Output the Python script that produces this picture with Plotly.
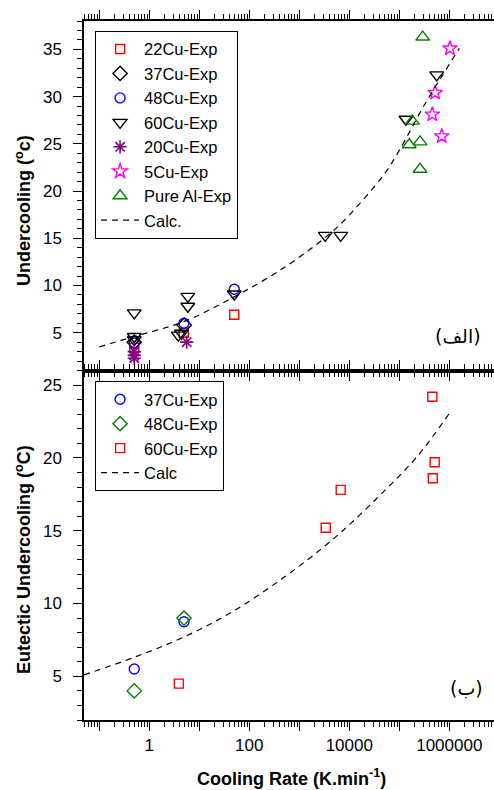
import plotly.graph_objects as go

# ---------------- data: top panel (primary undercooling) ----------------
cu22_x = [0.5, 4.9, 50]
cu22_y = [3.4, 5.0, 6.9]
cu37_x = [0.5, 5.0]
cu37_y = [4.0, 5.8]
cu48_x = [0.5, 4.94, 50]
cu48_y = [3.9, 6.0, 9.6]
cu60_x = [0.5, 0.5, 0.5, 3.8, 4.4, 5.9, 5.9, 50, 3300, 6730, 136000, 560000]
cu60_y = [7.1, 4.6, 4.25, 4.75, 4.95, 8.85, 7.8, 9.1, 15.3, 15.3, 27.6, 32.3]
cu20_x = [0.5, 0.5, 0.5, 5.6]
cu20_y = [3.0, 2.6, 2.3, 4.0]
cu5_x = [1030000, 520000, 457000, 705000]
cu5_y = [35.1, 30.4, 28.1, 25.8]
al_x = [294000, 182000, 158000, 260000, 260000]
al_y = [36.3, 27.4, 24.9, 25.2, 22.3]
calc_top_x = [0.1, 0.5, 5, 50, 500, 3162, 7943, 50119, 100000, 316228, 1585000]
calc_top_y = [3.5, 4.6, 6.2, 8.8, 11.9, 15.0, 16.9, 21.8, 24.3, 29.1, 35.1]

# ---------------- data: bottom panel (eutectic undercooling) ----------------
e37_x = [0.5, 4.94]
e37_y = [5.5, 8.75]
e48_x = [0.5, 4.94]
e48_y = [4.0, 9.0]
e60_x = [3.9, 3370, 6730, 457000, 510000, 467000]
e60_y = [4.5, 15.2, 17.8, 24.2, 19.7, 18.6]
calc_bot_x = [0.0494, 0.494, 4.94, 49.4, 494, 3119, 10700, 49000, 229000, 1070000]
calc_bot_y = [5.1, 6.3, 7.7, 9.5, 11.8, 13.9, 15.5, 17.7, 20.1, 23.2]

# ---------------- tick labels ----------------
x_major_vals = [0.1, 1, 10, 100, 1000, 10000, 100000, 1000000]
x_major_text = ["", "1", "", "100", "", "10000", "", "1000000"]
x_minor_vals = [m * 10 ** e for e in range(-2, 7) for m in range(2, 10)]

FONT = "Liberation Sans, Arial, sans-serif"
BLACK = "#000000"

fig = go.Figure()


def sc(x, y, name, symbol, color, size, xa, ya, legend, lw=1.4):
    fig.add_trace(go.Scatter(
        x=x, y=y, mode="markers", name=name, xaxis=xa, yaxis=ya, legend=legend,
        marker=dict(symbol=symbol, size=size, color=color,
                    line=dict(color=color, width=lw)),
    ))


# top panel traces (x2 / y2)
sc(cu22_x, cu22_y, "22Cu-Exp", "square-open", "#ff0000", 9, "x2", "y2", "legend")
sc(cu37_x, cu37_y, "37Cu-Exp", "diamond-open", BLACK, 11, "x2", "y2", "legend")
sc(cu48_x, cu48_y, "48Cu-Exp", "circle-open", "#0000ff", 10, "x2", "y2", "legend")
sc(cu60_x, cu60_y, "60Cu-Exp", "triangle-down-open", BLACK, 12, "x2", "y2", "legend")
sc(cu20_x, cu20_y, "20Cu-Exp", "asterisk-open", "#800080", 11, "x2", "y2", "legend", lw=1.6)
sc(cu5_x, cu5_y, "5Cu-Exp", "star-open", "#ff00ff", 11, "x2", "y2", "legend")
sc(al_x, al_y, "Pure Al-Exp", "triangle-up-open", "#008000", 12, "x2", "y2", "legend")
fig.add_trace(go.Scatter(
    x=calc_top_x, y=calc_top_y, mode="lines", name="Calc.", xaxis="x2", yaxis="y2",
    legend="legend", line=dict(color=BLACK, width=1.2, dash="6px,5px", shape="spline"),
))

# bottom panel traces (x / y)
sc(e37_x, e37_y, "37Cu-Exp", "circle-open", "#0000ff", 10, "x", "y", "legend2")
sc(e48_x, e48_y, "48Cu-Exp", "diamond-open", "#008000", 11, "x", "y", "legend2")
sc(e60_x, e60_y, "60Cu-Exp", "square-open", "#ff0000", 9, "x", "y", "legend2")
fig.add_trace(go.Scatter(
    x=calc_bot_x, y=calc_bot_y, mode="lines", name="Calc", xaxis="x", yaxis="y",
    legend="legend2", line=dict(color=BLACK, width=1.2, dash="6px,5px", shape="spline"),
))

xcommon = dict(
    type="log", range=[-1.306, 6.894], showline=True, linecolor=BLACK, linewidth=1.5,
    ticks="outside", ticklen=9, tickwidth=1.2, tickcolor=BLACK, mirror="ticks",
    tickmode="array", tickvals=x_major_vals, ticktext=x_major_text,
    minor=dict(tickmode="array", tickvals=x_minor_vals, ticks="outside",
               ticklen=5, tickwidth=1, tickcolor=BLACK, showgrid=False),
    showgrid=False, zeroline=False,
    tickfont=dict(family=FONT, size=17, color=BLACK),
)
ycommon = dict(
    showline=True, linecolor=BLACK, linewidth=1.5, ticks="outside", ticklen=9,
    tickwidth=1.2, tickcolor=BLACK, tick0=0, dtick=5, showgrid=False, zeroline=False,
    minor=dict(dtick=1, tick0=0, ticks="outside", ticklen=5, tickwidth=1,
               tickcolor=BLACK, showgrid=False),
    tickfont=dict(family=FONT, size=17, color=BLACK), ticklabelstandoff=8,
)

legend_common = dict(
    bgcolor="white", bordercolor=BLACK, borderwidth=1,
    font=dict(family=FONT, size=16.5, color=BLACK), xanchor="left", yanchor="top",
    tracegroupgap=0, itemwidth=38,
)

fig.update_layout(
    width=494, height=790, margin=dict(l=84, r=0, t=21, b=70),
    paper_bgcolor="white", plot_bgcolor="white",
    font=dict(family=FONT, color=BLACK),
    showlegend=True,
    xaxis=dict(**xcommon, domain=[0, 1], anchor="y", showticklabels=True),
    yaxis=dict(**ycommon, domain=[0, 0.5], range=[2, 26], anchor="x"),
    xaxis2=dict(**xcommon, domain=[0, 1], anchor="y2", showticklabels=False),
    yaxis2=dict(**ycommon, domain=[0.5, 1], range=[1, 38], anchor="x2"),
    legend=dict(**legend_common, x=0.027, y=0.986),
    legend2=dict(**legend_common, x=0.027, y=0.485),
)

annots = [
    dict(text="<b>Undercooling (<sup>o</sup>c)</b>", x=-0.149, y=0.7296, textangle=-90,
         font=dict(size=18)),
    dict(text="<b>Eutectic Undercooling (<sup>o</sup>C)</b>", x=-0.149, y=0.2303,
         textangle=-90, font=dict(size=18)),
    dict(text="<b>Cooling Rate (K.min<sup>-1</sup>)</b>", x=0.505, y=-0.101,
         yanchor="bottom", font=dict(size=18)),
    dict(text="(الف)", x=0.912, y=0.549, font=dict(size=19, family="DejaVu Sans")),
    dict(text="(ب)", x=0.932, y=0.0458, font=dict(size=19, family="DejaVu Sans")),
]
for a in annots:
    f = dict(family=FONT, color=BLACK)
    f.update(a.pop("font"))
    ya = a.pop("yanchor", "middle")
    fig.add_annotation(xref="paper", yref="paper", showarrow=False, xanchor="center",
                       yanchor=ya, font=f, **a)

fig.write_html(
    "out.html",
    config={"displayModeBar": False},
    post_script="document.body.style.margin='0';document.body.style.overflow='hidden';",
)
